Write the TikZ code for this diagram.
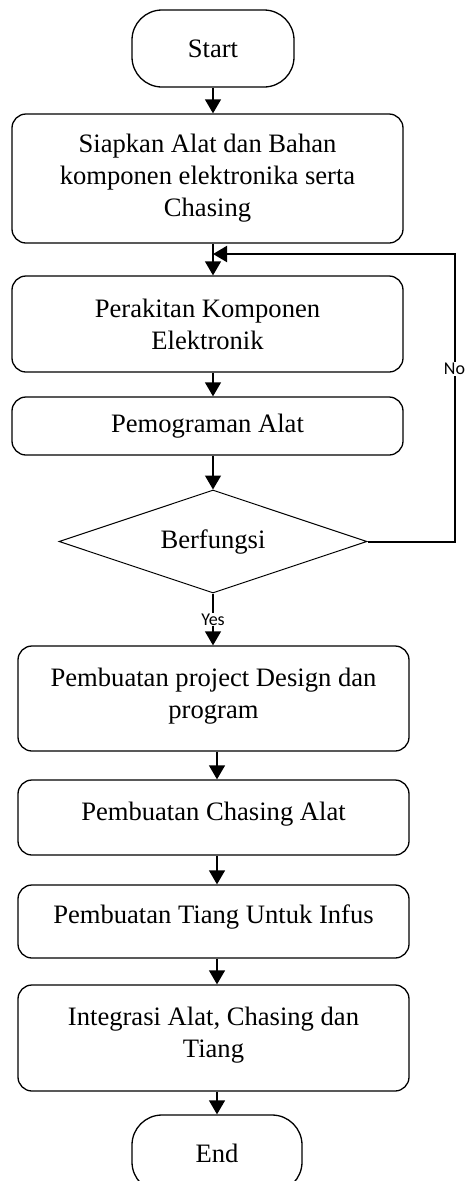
\documentclass[tikz,border=0pt]{standalone}
\usepackage{fontspec}
\setmainfont{Liberation Serif}
\newfontfamily\calibri{Carlito}
\usetikzlibrary{arrows.meta,shapes.geometric}

\begin{document}
\begin{tikzpicture}[x=1pt,y=-1pt,line width=1.3pt,>={Triangle[length=14pt,width=16pt]}]
  \tikzstyle{proc}=[draw,rounded corners=14pt,minimum width=391pt,align=center,inner sep=0pt,font=\fontsize{26.6}{32}\selectfont]
  \tikzstyle{term}=[proc,rounded corners=30pt,minimum height=77pt]
  \tikzstyle{decision}=[draw,diamond,aspect=3,minimum width=308pt,minimum height=103pt,inner sep=0pt,line width=1pt,font=\fontsize{26.6}{32}\selectfont]
  \tikzstyle{tag}=[fill=white,inner sep=1pt,font=\calibri\fontsize{18}{20}\selectfont]

  \useasboundingbox (0,0) rectangle (464,1181);

  \node[term,minimum width=162pt] (start) at (213,48.5) {Start};
  \node[proc,minimum height=129pt] (siapkan) at (207.5,178.5) {Siapkan Alat dan Bahan\\komponen elektronika serta\\Chasing};
  \node[proc,minimum height=96pt] (rakit) at (207.5,324) {Perakitan Komponen\\Elektronik};
  \node[proc,minimum height=58pt] (program) at (207.5,426) {Pemograman Alat};
  \node[decision] (cek) at (213,541.5) {Berfungsi};
  \node[proc,minimum height=105pt,text depth=10pt] (desain) at (213.5,698.5) {Pembuatan project Design dan\\program};
  \node[proc,minimum height=75pt,text depth=12pt] (chasing) at (213.5,817.5) {Pembuatan Chasing Alat};
  \node[proc,minimum height=73pt,text depth=14pt] (tiang) at (213.5,921.5) {Pembuatan Tiang Untuk Infus};
  \node[proc,minimum height=106pt,text depth=11pt] (integrasi) at (213.5,1038) {Integrasi Alat, Chasing dan\\Tiang};
  \node[term,minimum width=170pt] (finish) at (217,1153.5) {End};

  \coordinate (loopx) at (454.5,0);
  \coordinate (loopy) at (0,254);

  \draw[->] (start) -- (start |- siapkan.north);
  \draw[->] (start |- siapkan.south) -- (start |- rakit.north);
  \draw[->] (start |- rakit.south) -- (start |- program.north);
  \draw[->] (start |- program.south) -- (cek.north);
  \draw[->] (cek.south) -- node[tag] {Yes} (cek.south |- desain.north);
  \draw[->] (finish |- desain.south) -- (finish |- chasing.north);
  \draw[->] (finish |- chasing.south) -- (finish |- tiang.north);
  \draw[->] (finish |- tiang.south) -- (finish |- integrasi.north);
  \draw[->] (finish |- integrasi.south) -- (finish.north);

  \draw[->,line width=2pt] (cek.east) -| node[tag,pos=0.8] {No} (loopx |- loopy) -- (start |- loopy);
\end{tikzpicture}
\end{document}
